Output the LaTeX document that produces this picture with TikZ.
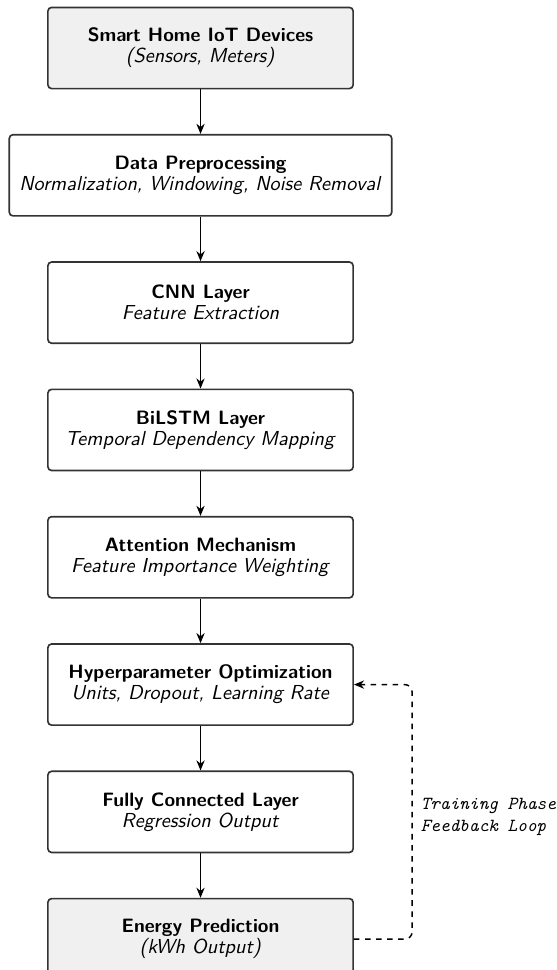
\documentclass[tikz,border=0pt]{standalone}
\usepackage{fontspec}
\setsansfont{lmsans10}[Extension=.otf, UprightFont=*-regular, ItalicFont=*-oblique, BoldFont=*-bold, BoldItalicFont=*-boldoblique, BoldFeatures={Scale=0.955}]
\usepackage{tikz}
\usetikzlibrary{arrows.meta,positioning}

\begin{document}
\begin{tikzpicture}[
            block/.style={draw=black!80, line width=0.9pt, rounded corners=2pt, minimum width=5.83cm, minimum height=1.55cm, inner xsep=5.5pt, align=center, fill=white, font=\sffamily\fontsize{11}{11.4}\selectfont},
            iotblock/.style={block, fill=gray!12},
            arrow/.style={-{Stealth[length=5.5pt,width=4.5pt]}, line width=0.7pt},
            feedback/.style={-{Stealth[length=5.5pt,width=4.5pt]}, line width=0.8pt, dashed, rounded corners=4pt},
            node distance=0.85cm
        ]

        \useasboundingbox (-3.83,0.917) rectangle (6.79,-17.61);

        \node[iotblock] (devices) {\textbf{Smart Home IoT Devices}\\\textit{(Sensors, Meters)}};

        \node[block, below=of devices] (preproc) {\textbf{Data Preprocessing}\\\textit{Normalization, Windowing, Noise Removal}};

        \node[block, below=of preproc] (cnn) {\textbf{CNN Layer}\\\textit{Feature Extraction}};

        \node[block, below=of cnn] (bilstm) {\textbf{BiLSTM Layer}\\\textit{Temporal Dependency Mapping}};

        \node[block, below=of bilstm] (attention) {\textbf{Attention Mechanism}\\\textit{Feature Importance Weighting}};

        \node[block, below=of attention] (hyperopt) {\textbf{Hyperparameter Optimization}\\\textit{Units, Dropout, Learning Rate}};

        \node[block, below=of hyperopt] (dense) {\textbf{Fully Connected Layer}\\\textit{Regression Output}};

        \node[iotblock, below=of dense] (prediction) {\textbf{Energy Prediction}\\\textit{(kWh Output)}};

        % Main data flow
        \draw[arrow] (devices) -- (preproc);
        \draw[arrow] (preproc) -- (cnn);
        \draw[arrow] (cnn) -- (bilstm);
        \draw[arrow] (bilstm) -- (attention);
        \draw[arrow] (attention) -- (hyperopt);
        \draw[arrow] (hyperopt) -- (dense);
        \draw[arrow] (dense) -- (prediction);

        % Training feedback loop
        \coordinate[right=1.11cm of hyperopt.east] (loop);
        \draw[feedback] (prediction.east) -| node[pos=0.74, right, xshift=1pt, align=left, font=\ttfamily\itshape] {Training Phase\\Feedback Loop} (loop) -- (hyperopt.east);

    \end{tikzpicture}
\end{document}
